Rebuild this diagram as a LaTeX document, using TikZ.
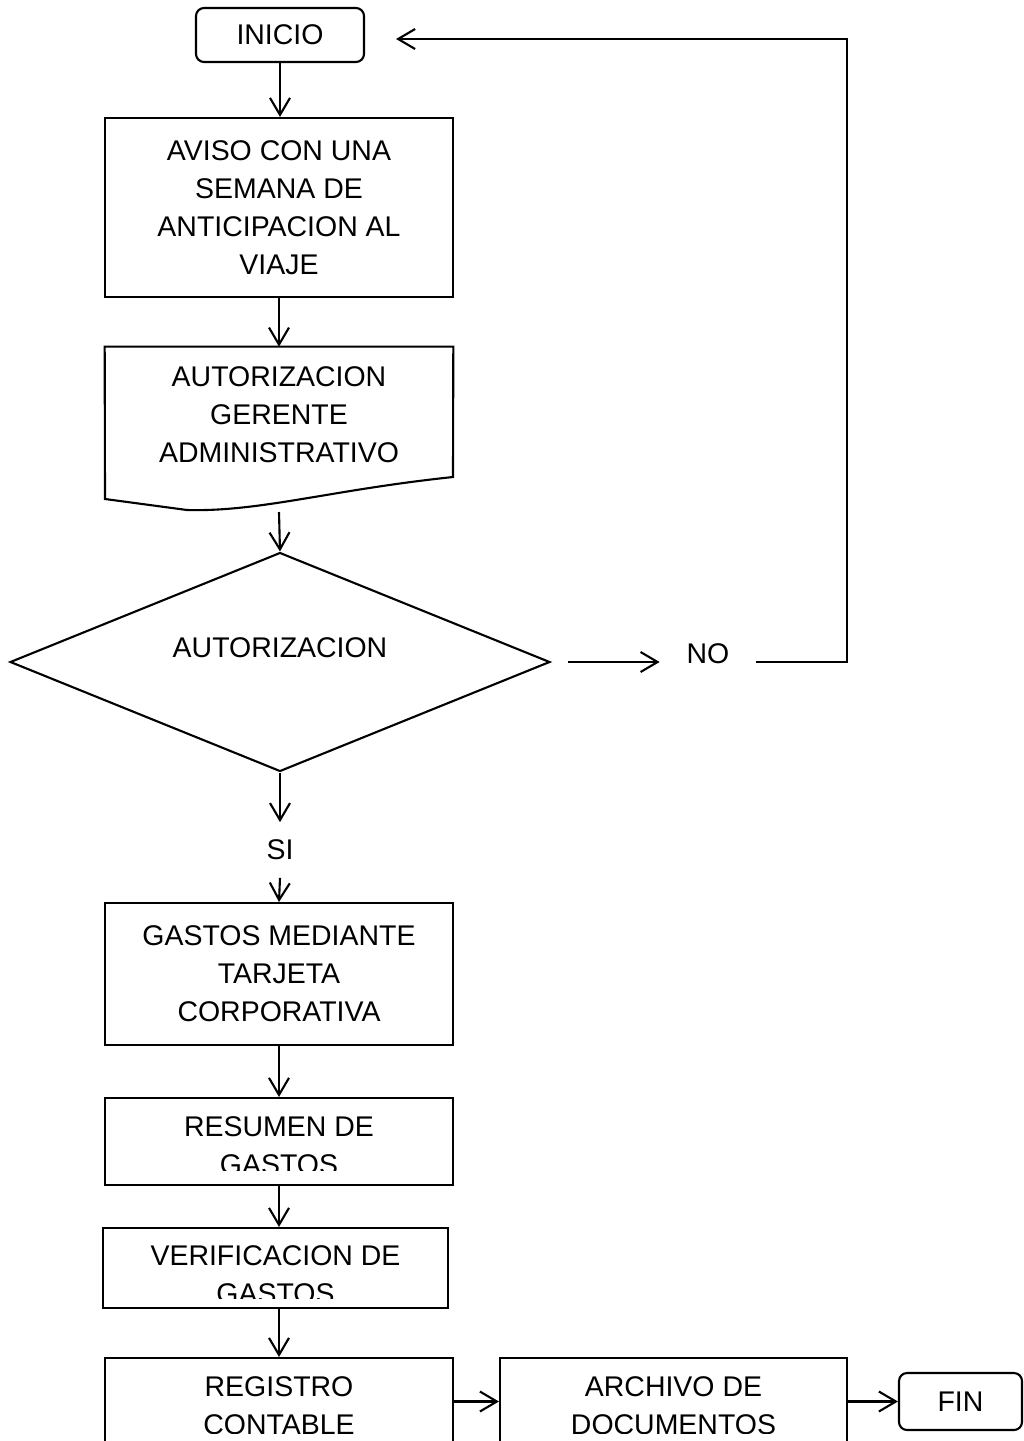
\documentclass[tikz,border=0pt]{standalone}
\usepackage{fontspec}
\setmainfont{Liberation Sans}
\usetikzlibrary{shapes.geometric,arrows.meta,calc}

\begin{document}
\begin{tikzpicture}[
    x=0.02cm, y=-0.02cm,
    every node/.style={font=\fontsize{16.2}{21.6}\selectfont, align=center},
    line/.style={line width=1.2pt},
    arr/.style={line width=1.2pt, -{Straight Barb[length=0.34cm, width=0.4cm]}},
    proc/.style={rectangle, draw, line width=1.2pt, minimum width=6.96cm, inner sep=0pt},
    term/.style={rectangle, draw, rounded corners=0.16cm, line width=1.2pt, inner sep=0pt},
    dec/.style={diamond, draw, line width=1.2pt, minimum width=10.8cm, minimum height=4.38cm, inner sep=0pt},
    lbl/.style={inner sep=0pt}
]
\clip (0,0) rectangle (1024,1441);

% ---- nodes ----
\node[term, minimum width=3.36cm, minimum height=1.08cm] (inicio) at (280,35) {INICIO};
\node[proc, minimum height=3.58cm] (aviso) at (279,207.5) {AVISO CON UNA\\SEMANA DE\\ANTICIPACION AL\\VIAJE};
\node[lbl, minimum width=6.96cm, minimum height=2.72cm] (autger) at (279,415) {AUTORIZACION\\GERENTE\\ADMINISTRATIVO};
\node[dec] (dec) at (280,662) {};
\node at (280,648) {AUTORIZACION};
\node[lbl, minimum width=1.92cm] (no) at (708,654) {NO};
\node[lbl, minimum height=1.1cm] (si) at (280,850) {SI};
\node[proc, minimum height=2.84cm] (gastos) at (279,974) {GASTOS MEDIANTE\\TARJETA\\CORPORATIVA};
\node[proc, minimum height=1.74cm] (resumen) at (279,1141.5) {};
\node[proc, minimum width=6.9cm, minimum height=1.6cm] (verif) at (275.5,1268) {};
\node[proc, minimum height=1.92cm] (registro) at (279,1406) {};
\node[proc, minimum width=6.94cm, minimum height=1.92cm] (archivo) at (673.5,1406) {};
\node[term, minimum width=2.46cm, minimum height=1.14cm] (fin) at (960.5,1401.5) {FIN};

% document shape round the authorization
\draw[line] (autger.north west) -- (autger.north east) -- (453,477)
  .. controls (330,490) and (260,512) .. (187,510) -- (105,499) -- cycle;
\coordinate (wave) at (279,512);

% texts cut at the lower edge
\begin{scope}
  \clip (resumen.north west) rectangle ($(resumen.south east)+(0,-16)$);
  \node at ($(resumen)+(0,4)$) {RESUMEN DE\\GASTOS};
\end{scope}
\begin{scope}
  \clip (verif.north west) rectangle ($(verif.south east)+(0,-11)$);
  \node at ($(verif)+(0,7)$) {VERIFICACION DE\\GASTOS};
\end{scope}
\begin{scope}
  \clip (registro.north west) rectangle ($(registro.south east)+(0,-22)$);
  \node at (registro) {REGISTRO\\CONTABLE};
\end{scope}
\begin{scope}
  \clip (archivo.north west) rectangle ($(archivo.south east)+(0,-22)$);
  \node at (archivo) {ARCHIVO DE\\DOCUMENTOS};
\end{scope}

% ---- arrows ----
\draw[arr] (inicio.south) -- (inicio.south |- aviso.north);
\draw[arr] (aviso.south) -- (autger.north);
\draw[arr] (wave) -- (dec.north);
\draw[arr] (dec.south) -- (si.north);
\draw[arr] (si.south) -- (gastos.north);
\draw[arr] (gastos.south) -- (resumen.north);
\draw[arr] (resumen.south) -- (resumen.south |- verif.north);
\draw[arr] (verif.south -| registro) -- (registro.north);
\draw[arr] (registro.east |- fin.west) -- (archivo.west |- fin.west);
\draw[arr] (archivo.east |- fin.west) -- (fin.west);

% NO branch back to the start
\coordinate (ret) at (847,39);
\draw[arr] ($(dec.east)+(17,0)$) -- (dec.east -| no.west);
\draw[arr, shorten >=0.62cm] (dec.east -| no.east) -| (ret) -- (ret -| inicio.east);

\end{tikzpicture}
\end{document}
